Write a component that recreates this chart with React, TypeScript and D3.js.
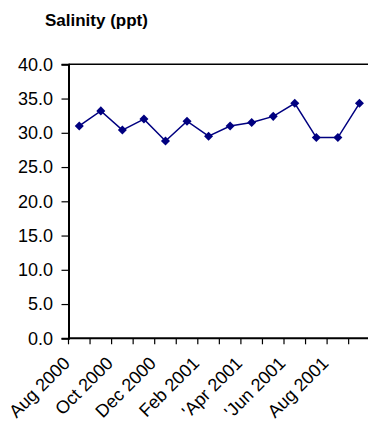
import React, { useEffect, useRef } from 'react'
import * as d3 from 'd3'

// monthly categories (only every second one carries a label)
const months = [
  'Aug 2000', 'Sep 2000', 'Oct 2000', 'Nov 2000', 'Dec 2000', 'Jan 2001', 'Feb 2001',
  'Mar 2001', "'Apr 2001", 'May 2001', "'Jun 2001", 'Jul 2001', 'Aug 2001', 'Sep 2001'
]
const shownLabels = ['Aug 2000', 'Oct 2000', 'Dec 2000', 'Feb 2001', "'Apr 2001", "'Jun 2001", 'Aug 2001']
const salinity = [31.0, 33.2, 30.4, 32.0, 28.8, 31.7, 29.5, 31.0, 31.5, 32.4, 34.3, 29.3, 29.3, 34.3]
const yTicks = [0, 5, 10, 15, 20, 25, 30, 35, 40]

const App: React.FC = () => {
  const svgRef = useRef<SVGSVGElement>(null)

  useEffect(() => {
    if (!svgRef.current) return
    const svg = d3.select(svgRef.current)
    svg.selectAll('*').remove()

    const left = 68.5
    const top = 64.3
    const bottom = 338.3
    const step = 21.55

    const x = d3.scaleBand<string>()
      .domain(months)
      .range([left, left + step * months.length])
      .paddingInner(0)
      .paddingOuter(0)

    const y = d3.scaleLinear().domain([0, 40]).range([bottom, top])

    const font = "'Liberation Sans', Arial, sans-serif"

    // title
    svg.append('text')
      .attr('x', 45)
      .attr('y', 26)
      .style('font-family', font)
      .style('font-size', '17px')
      .style('font-weight', 'bold')
      .style('fill', '#000')
      .text('Salinity (ppt)')

    // top border of plot
    svg.append('line')
      .attr('x1', left).attr('x2', left + step * months.length)
      .attr('y1', y(40)).attr('y2', y(40))
      .attr('stroke', '#000').attr('stroke-width', 1.6)

    // y axis
    const yAxis = svg.append('g')
      .attr('transform', `translate(${left},0)`)
      .call(d3.axisLeft(y).tickValues(yTicks).tickSize(7).tickPadding(8.5).tickFormat(d3.format('.1f')))
    yAxis.select('.domain').attr('stroke-width', 2)
    yAxis.selectAll('.tick line').attr('stroke-width', 1.2)
    yAxis.selectAll('text')
      .style('font-family', font)
      .style('font-size', '18px')
      .style('fill', '#000')

    // x axis
    const xg = svg.append('g')
    xg.append('line')
      .attr('x1', left).attr('x2', left + step * months.length)
      .attr('y1', bottom).attr('y2', bottom)
      .attr('stroke', '#000').attr('stroke-width', 2)
    xg.selectAll('.xtick')
      .data(months)
      .enter()
      .append('line')
      .attr('x1', d => x(d) as number)
      .attr('x2', d => x(d) as number)
      .attr('y1', bottom)
      .attr('y2', bottom + 6)
      .attr('stroke', '#000')
      .attr('stroke-width', 1.2)
    xg.selectAll('.xlabel')
      .data(shownLabels)
      .enter()
      .append('text')
      .attr('transform', d => `translate(${(x(d) as number) + 2.5},${bottom + 26}) rotate(-45)`)
      .attr('text-anchor', 'end')
      .style('font-family', font)
      .style('font-size', '18px')
      .style('fill', '#000')
      .text(d => d)

    // series line
    const line = d3.line<number>()
      .x((d, i) => (x(months[i]) as number) + x.bandwidth() / 2)
      .y(d => y(d))

    svg.append('path')
      .datum(salinity)
      .attr('fill', 'none')
      .attr('stroke', '#000080')
      .attr('stroke-width', 1.5)
      .attr('d', line)

    svg.selectAll('.pt')
      .data(salinity)
      .enter()
      .append('path')
      .attr('d', d3.symbol().type(d3.symbolDiamond2).size(52))
      .attr('transform', (d, i) => `translate(${(x(months[i]) as number) + x.bandwidth() / 2},${y(d)})`)
      .attr('fill', '#000080')
  }, [])

  return (
    <svg
      ref={svgRef}
      width={368}
      height={424}
      style={{ position: 'absolute', left: 0, top: 0, background: '#fff' }}
    />
  )
}

export default App
